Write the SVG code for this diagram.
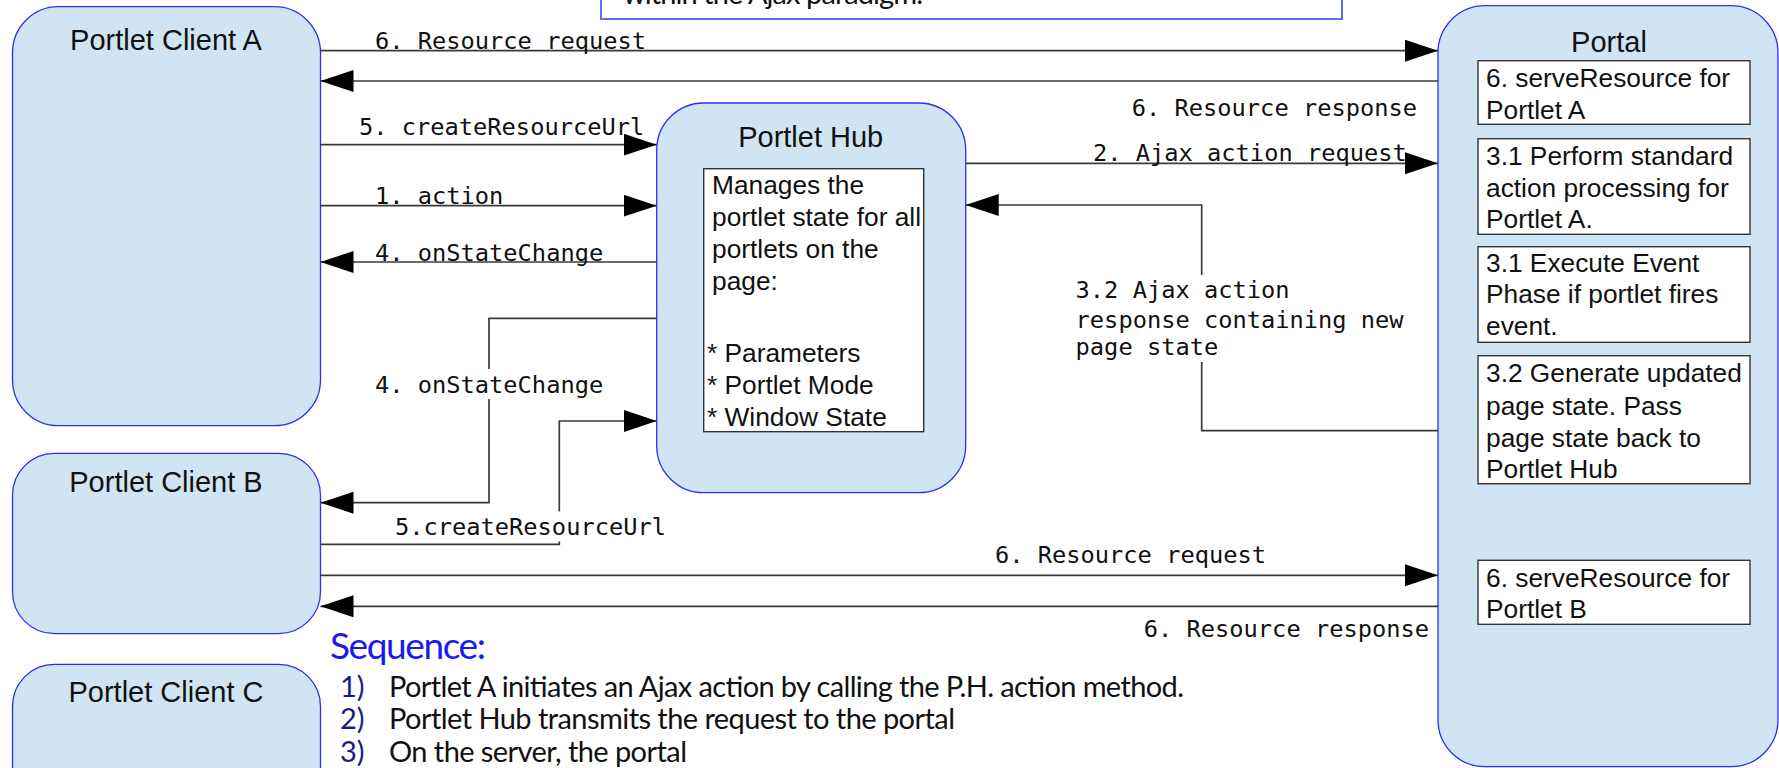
<svg xmlns="http://www.w3.org/2000/svg" width="1779" height="768" viewBox="0 0 1779 768">
  <style>
    .node { fill: #cfe5f3; stroke: #2f2ff0; stroke-width: 1.3; }
    .box { fill: #ffffff; stroke: #333333; stroke-width: 1.4; }
    .title { font-family: "Liberation Sans", Arial, sans-serif; font-size: 29px; fill: #111; text-anchor: middle; }
    .body { font-family: "Liberation Sans", Arial, sans-serif; font-size: 26.3px; fill: #111; }
    .lbl { font-family: "DejaVu Sans Mono", monospace; font-size: 23.7px; fill: #111; }
    .conn { fill: none; stroke: #3a3a3a; stroke-width: 1.7; marker-end: url(#arrow); }
    .mask { fill: #ffffff; }
    .note { font-family: Lato, "Open Sans", sans-serif; font-size: 29px; fill: #111; }
    .num { font-family: Lato, "Open Sans", sans-serif; font-size: 29px; fill: #1c1c80; }
    .head { font-family: Lato, "Open Sans", sans-serif; font-size: 37px; fill: #1a1af0; }
  </style>
  <defs>
    <marker id="arrow" markerUnits="userSpaceOnUse" markerWidth="34" markerHeight="24" refX="33" refY="11" orient="auto">
      <path d="M0,0 L33,11 L0,22 z" fill="#000"/>
    </marker>
  </defs>

  <!-- caption box at the top, mostly above the canvas -->
  <g id="caption">
    <rect x="601" y="-40" width="741" height="59" fill="#fff" stroke="#6a6af0" stroke-width="2"/>
    <text class="note" x="623" y="4" textLength="300" fill="#222">within the Ajax paradigm.</text>
  </g>

  <!-- portlet clients -->
  <g id="client-a">
    <rect class="node" x="12.5" y="6.7" width="308" height="419" rx="46" ry="46"/>
    <text class="title" x="166" y="50">Portlet Client A</text>
  </g>
  <g id="client-b">
    <rect class="node" x="12.5" y="453.3" width="308" height="180.4" rx="42" ry="42"/>
    <text class="title" x="166" y="491.7">Portlet Client B</text>
  </g>
  <g id="client-c">
    <rect class="node" x="12.5" y="664.3" width="308" height="180" rx="42" ry="42"/>
    <text class="title" x="166" y="702">Portlet Client C</text>
  </g>

  <!-- portlet hub -->
  <g id="portlet-hub">
    <rect class="node" x="656.7" y="103" width="309" height="389.7" rx="47" ry="47"/>
    <text class="title" x="810.7" y="147">Portlet Hub</text>
    <rect class="box" x="703.7" y="168.7" width="220" height="263"/>
    <text class="body" x="712" y="194">Manages the</text>
    <text class="body" x="712" y="226">portlet state for all</text>
    <text class="body" x="712" y="257.7">portlets on the</text>
    <text class="body" x="712" y="290">page:</text>
    <text class="body" x="707" y="361.7">* Parameters</text>
    <text class="body" x="707" y="394">* Portlet Mode</text>
    <text class="body" x="707" y="426">* Window State</text>
  </g>

  <!-- portal -->
  <g id="portal">
    <rect class="node" x="1438" y="5.7" width="340" height="761" rx="47" ry="47"/>
    <text class="title" x="1609" y="52">Portal</text>
    <rect class="box" x="1478" y="60.7" width="272" height="63.6"/>
    <text class="body" x="1486" y="87">6. serveResource for</text>
    <text class="body" x="1486" y="119">Portlet A</text>
    <rect class="box" x="1478" y="138.7" width="272" height="95.6"/>
    <text class="body" x="1486" y="165">3.1 Perform standard</text>
    <text class="body" x="1486" y="196.7">action processing for</text>
    <text class="body" x="1486" y="228.3">Portlet A.</text>
    <rect class="box" x="1478" y="246.7" width="272" height="95.6"/>
    <text class="body" x="1486" y="271.7">3.1 Execute Event</text>
    <text class="body" x="1486" y="303.3">Phase if portlet fires</text>
    <text class="body" x="1486" y="335">event.</text>
    <rect class="box" x="1478" y="355.7" width="272" height="128"/>
    <text class="body" x="1486" y="381.7">3.2 Generate updated</text>
    <text class="body" x="1486" y="415">page state. Pass</text>
    <text class="body" x="1486" y="446.7">page state back to</text>
    <text class="body" x="1486" y="478.3">Portlet Hub</text>
    <rect class="box" x="1478" y="560.3" width="272" height="64"/>
    <text class="body" x="1486" y="586.7">6. serveResource for</text>
    <text class="body" x="1486" y="618.3">Portlet B</text>
  </g>

  <!-- connectors -->
  <g id="connectors">
    <!-- client A <-> portal resource exchange -->
    <line class="conn" x1="320.5" y1="50.7" x2="1438" y2="50.7"/>
    <text class="lbl" x="375" y="49.3">6. Resource request</text>
    <line class="conn" x1="1438" y1="81" x2="320.5" y2="81"/>
    <text class="lbl" x="1417" y="116" text-anchor="end">6. Resource response</text>

    <!-- client A <-> hub -->
    <line class="conn" x1="320.5" y1="144.7" x2="656.7" y2="144.7"/>
    <text class="lbl" x="359" y="135">5. createResourceUrl</text>
    <line class="conn" x1="320.5" y1="205.7" x2="656.7" y2="205.7"/>
    <text class="lbl" x="375" y="204">1. action</text>
    <line class="conn" x1="656.7" y1="262" x2="320.5" y2="262"/>
    <text class="lbl" x="375" y="260.5">4. onStateChange</text>

    <!-- hub -> client B state change -->
    <polyline class="conn" points="656.7,318.3 489,318.3 489,502.7 320.5,502.7"/>
    <rect class="mask" x="372" y="369" width="234" height="30"/>
    <text class="lbl" x="375" y="393">4. onStateChange</text>

    <!-- client B -> hub resource URL -->
    <polyline class="conn" points="320.5,544.3 559.3,544.3 559.3,421 656.7,421"/>
    <rect class="mask" x="392" y="511.5" width="276" height="30"/>
    <text class="lbl" x="395" y="535">5.createResourceUrl</text>

    <!-- hub <-> portal action exchange -->
    <line class="conn" x1="965.7" y1="163.3" x2="1438" y2="163.3"/>
    <text class="lbl" x="1093" y="160.7">2. Ajax action request</text>
    <polyline class="conn" points="1438,430.7 1201.7,430.7 1201.7,205 965.7,205"/>
    <rect class="mask" x="1072" y="275" width="340" height="87"/>
    <text class="lbl" x="1075.6" y="298">3.2 Ajax action</text>
    <text class="lbl" x="1075.6" y="328">response containing new</text>
    <text class="lbl" x="1075.6" y="355">page state</text>

    <!-- client B <-> portal resource exchange -->
    <line class="conn" x1="320.5" y1="575.3" x2="1438" y2="575.3"/>
    <text class="lbl" x="995" y="563">6. Resource request</text>
    <line class="conn" x1="1438" y1="606.3" x2="320.5" y2="606.3"/>
    <text class="lbl" x="1429" y="636.5" text-anchor="end">6. Resource response</text>
  </g>

  <!-- sequence notes -->
  <g id="sequence">
    <text class="head" x="330" y="659" textLength="156">Sequence:</text>
    <text class="num" x="340" y="696.7">1)</text>
    <text class="note" x="389" y="696.7" textLength="795">Portlet A initiates an Ajax action by calling the P.H. action method.</text>
    <text class="num" x="340" y="729">2)</text>
    <text class="note" x="389" y="729" textLength="566">Portlet Hub transmits the request to the portal</text>
    <text class="num" x="340" y="761.7">3)</text>
    <text class="note" x="389" y="761.7" textLength="298">On the server, the portal</text>
  </g>
</svg>
